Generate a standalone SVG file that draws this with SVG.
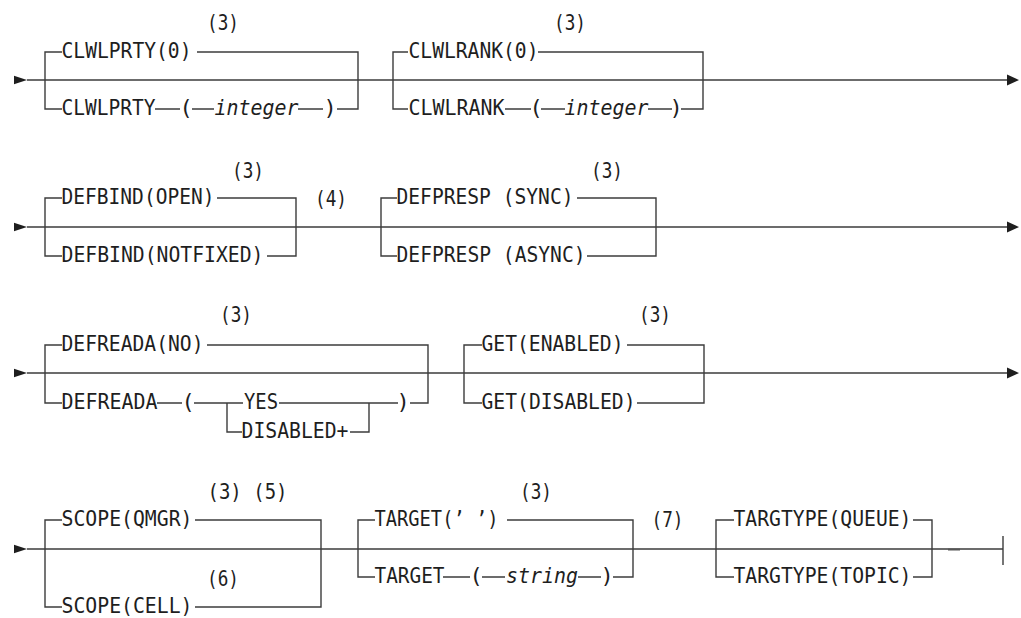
<svg xmlns="http://www.w3.org/2000/svg" width="1021" height="618" viewBox="0 0 1021 618">
<style>
.r{fill:none;stroke:#3c3c3c;stroke-width:1.4}
.t{font-family:'DejaVu Sans Mono','Liberation Mono',monospace;font-size:22px;fill:#1e1e1e}
.i{font-style:italic}
.m{text-anchor:middle}
.n{font-family:'DejaVu Sans Mono','Liberation Mono',monospace;font-size:22px;fill:#1e1e1e;text-anchor:middle}
.a{fill:#1e1e1e}
</style>
<defs>
<path id="sa" d="M0,-4.2L13,0L0,4.2Z"/>
<path id="ea" d="M0,-5.5L12,0L0,5.5Z"/>
</defs>
<rect width="1021" height="618" fill="#fff"/>
<g id="connectors">
<path class="r" d="M27,80H1007M27,227H1007M27,373H1007M27,549H1003M1003,536V565"/>
<path d="M948,549.6H960" stroke="#555" stroke-width="1.8"/>
<use href="#sa" class="a" x="14" y="80"/>
<use href="#sa" class="a" x="14" y="227"/>
<use href="#sa" class="a" x="14" y="373"/>
<use href="#sa" class="a" x="14" y="549"/>
<use href="#ea" class="a" x="1007" y="80"/>
<use href="#ea" class="a" x="1007" y="227"/>
<use href="#ea" class="a" x="1007" y="373"/>
</g>
<g id="clwlprty">
<path class="r" d="M62,52H45V109H62M197,52H358V109H337M155,109H180M192,109H214M298,109H323"/>
<text class="n" x="223" y="30" textLength="32" lengthAdjust="spacingAndGlyphs">(3)</text>
<text class="t" x="61.5" y="58" textLength="130" lengthAdjust="spacingAndGlyphs">CLWLPRTY(0)</text>
<text class="t" x="61.5" y="115" textLength="94" lengthAdjust="spacingAndGlyphs">CLWLPRTY</text>
<text class="t m" x="186" y="115">(</text>
<text class="t i m" x="256.5" y="115" textLength="84" lengthAdjust="spacingAndGlyphs">integer</text>
<text class="t m" x="330" y="115">)</text>
</g>
<g id="clwlrank">
<path class="r" d="M408,52H393V109H408M538,52H703V109H681M505,109H531M541,109H565M648,109H672"/>
<text class="n" x="570" y="30" textLength="32" lengthAdjust="spacingAndGlyphs">(3)</text>
<text class="t" x="408.5" y="58" textLength="130" lengthAdjust="spacingAndGlyphs">CLWLRANK(0)</text>
<text class="t" x="408.5" y="115" textLength="96" lengthAdjust="spacingAndGlyphs">CLWLRANK</text>
<text class="t m" x="536" y="115">(</text>
<text class="t i m" x="606.5" y="115" textLength="84" lengthAdjust="spacingAndGlyphs">integer</text>
<text class="t m" x="676" y="115">)</text>
</g>
<g id="defbind">
<path class="r" d="M62,198H45V256H62M217,198H296V256H267"/>
<text class="n" x="248" y="178" textLength="32" lengthAdjust="spacingAndGlyphs">(3)</text>
<text class="n" x="331" y="206" textLength="32" lengthAdjust="spacingAndGlyphs">(4)</text>
<text class="t" x="61.5" y="204" textLength="153" lengthAdjust="spacingAndGlyphs">DEFBIND(OPEN)</text>
<text class="t" x="61.5" y="262" textLength="202" lengthAdjust="spacingAndGlyphs">DEFBIND(NOTFIXED)</text>
</g>
<g id="defpresp">
<path class="r" d="M397,198H381V256H397M577,198H656V256H587"/>
<text class="n" x="607" y="178" textLength="32" lengthAdjust="spacingAndGlyphs">(3)</text>
<text class="t" x="396.5" y="204" textLength="177" lengthAdjust="spacingAndGlyphs">DEFPRESP (SYNC)</text>
<text class="t" x="396.5" y="262" textLength="189" lengthAdjust="spacingAndGlyphs">DEFPRESP (ASYNC)</text>
</g>
<g id="defreada">
<path class="r" d="M62,345H45V403H62M207,345H428V403H410M157,403H182M194,403H243M227,403V432H242M279,403H398M369,403V432H350"/>
<text class="n" x="236" y="322" textLength="32" lengthAdjust="spacingAndGlyphs">(3)</text>
<text class="t" x="61.5" y="351" textLength="142" lengthAdjust="spacingAndGlyphs">DEFREADA(NO)</text>
<text class="t" x="61.5" y="409" textLength="96" lengthAdjust="spacingAndGlyphs">DEFREADA</text>
<text class="t m" x="188" y="409">(</text>
<text class="t" x="244" y="409" textLength="34" lengthAdjust="spacingAndGlyphs">YES</text>
<text class="t" x="241.5" y="438" textLength="107" lengthAdjust="spacingAndGlyphs">DISABLED+</text>
<text class="t m" x="403" y="409">)</text>
</g>
<g id="get">
<path class="r" d="M482,345H464V403H482M627,345H704V403H637"/>
<text class="n" x="655" y="322" textLength="32" lengthAdjust="spacingAndGlyphs">(3)</text>
<text class="t" x="481.5" y="351" textLength="142" lengthAdjust="spacingAndGlyphs">GET(ENABLED)</text>
<text class="t" x="481.5" y="409" textLength="154" lengthAdjust="spacingAndGlyphs">GET(DISABLED)</text>
</g>
<g id="scope">
<path class="r" d="M62,520H45V607H62M195,520H321V607H195"/>
<text class="n" x="247.5" y="499" textLength="80" lengthAdjust="spacingAndGlyphs">(3) (5)</text>
<text class="n" x="223" y="586" textLength="32" lengthAdjust="spacingAndGlyphs">(6)</text>
<text class="t" x="61.5" y="526" textLength="131" lengthAdjust="spacingAndGlyphs">SCOPE(QMGR)</text>
<text class="t" x="61.5" y="613" textLength="131" lengthAdjust="spacingAndGlyphs">SCOPE(CELL)</text>
</g>
<g id="target">
<path class="r" d="M375,520H358V577H375M507,520H633V577H613M443,577H470M482,577H505M578,577H601"/>
<text class="n" x="536" y="499" textLength="32" lengthAdjust="spacingAndGlyphs">(3)</text>
<text class="n" x="667.5" y="527" textLength="32" lengthAdjust="spacingAndGlyphs">(7)</text>
<text class="t" x="374.5" y="526" textLength="124" lengthAdjust="spacingAndGlyphs">TARGET(’ ’)</text>
<text class="t" x="374.5" y="583" textLength="70" lengthAdjust="spacingAndGlyphs">TARGET</text>
<text class="t m" x="476" y="583">(</text>
<text class="t i m" x="542" y="583" textLength="72" lengthAdjust="spacingAndGlyphs">string</text>
<text class="t m" x="607" y="583">)</text>
</g>
<g id="targtype">
<path class="r" d="M734,520H716V577H734M913,520H932V577H913"/>
<text class="t" x="733.5" y="526" textLength="178" lengthAdjust="spacingAndGlyphs">TARGTYPE(QUEUE)</text>
<text class="t" x="733.5" y="583" textLength="178" lengthAdjust="spacingAndGlyphs">TARGTYPE(TOPIC)</text>
</g>
</svg>
